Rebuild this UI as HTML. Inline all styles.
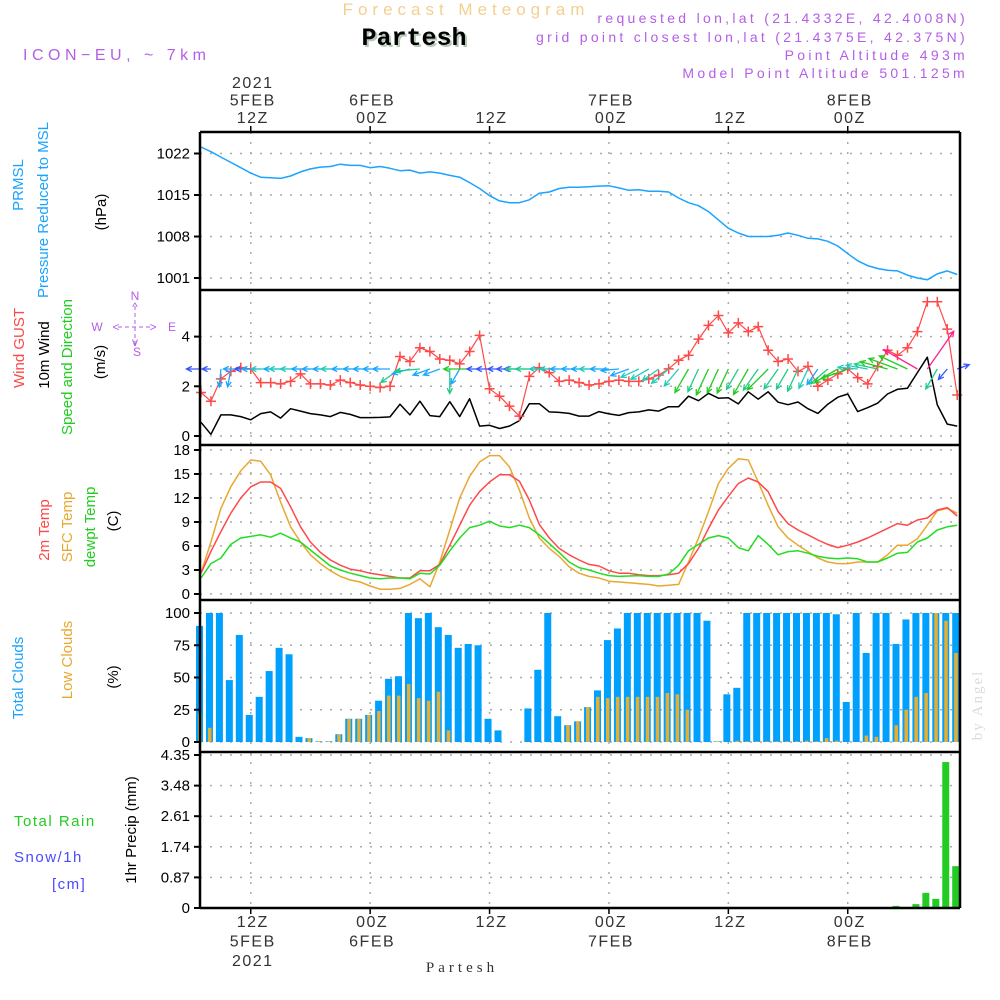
<!DOCTYPE html>
<html><head><meta charset="utf-8"><style>
html,body{margin:0;padding:0;background:#fff;}
svg{display:block;font-family:"Liberation Sans",sans-serif;}
</style></head><body>
<svg id="chart" width="1000" height="1000" viewBox="0 0 1000 1000">
<g id="grid"></g>
<g id="marks"></g>
<g id="frame"></g>
<g id="labels"></g>
<text x="466" y="15" text-anchor="middle" font-size="17" letter-spacing="5" fill="#f3cf90">Forecast Meteogram</text>
<text x="416" y="47" text-anchor="middle" font-size="25" font-weight="bold" font-family="Liberation Mono,monospace" fill="#b8c8b8">Partesh</text>
<text x="414" y="45" text-anchor="middle" font-size="25" font-weight="bold" font-family="Liberation Mono,monospace" fill="#000">Partesh</text>
<text x="23" y="60" font-size="16" letter-spacing="4.5" fill="#b45ee6">ICON−EU, ~ 7km</text>
<g fill="#b45ee6" font-size="14" letter-spacing="3.3" text-anchor="end">
<text x="968" y="23">requested lon,lat (21.4332E, 42.4008N)</text>
<text x="968" y="42">grid point closest lon,lat (21.4375E, 42.375N)</text>
<text x="968" y="60">Point Altitude 493m</text>
<text x="968" y="78">Model Point Altitude 501.125m</text>
</g>
<text x="462" y="972" text-anchor="middle" font-size="15" font-family="Liberation Serif,serif" letter-spacing="4" fill="#333">Partesh</text>
<text transform="translate(982,705) rotate(-90)" text-anchor="middle" font-size="15" font-family="Liberation Serif,serif" letter-spacing="2" fill="#d8ddd8">by Angel</text>
</svg>
<script>
const NS="http://www.w3.org/2000/svg";
const hours=[];for(let i=0;i<77;i++)hours.push(i);
const timeTickHours=[5,17,29,41,53,65];
const topTickLabels=[["2021","5FEB","12Z"],["6FEB","00Z"],["12Z"],["7FEB","00Z"],["12Z"],["8FEB","00Z"]];
const botTickLabels=[["12Z","5FEB","2021"],["00Z","6FEB"],["12Z"],["00Z","7FEB"],["12Z"],["00Z","8FEB"]];
const pressure=[1023.1,1022.3,1021.4,1020.5,1019.6,1018.7,1018,1017.9,1017.8,1018.2,1018.9,1019.4,1019.7,1019.8,1020.2,1020,1020,1019.6,1019.8,1019.5,1019.1,1019.2,1018.7,1018.9,1018.7,1018.3,1018,1017.1,1016.1,1014.9,1014,1013.7,1013.7,1014.2,1015.3,1015.5,1016.1,1016.3,1016.3,1016.4,1016.5,1016.55,1016.2,1015.8,1015.9,1015.65,1015.65,1015.5,1014.5,1013.7,1013.2,1012.2,1010.8,1009.4,1008.6,1008,1008,1008,1008.2,1008.6,1008.2,1007.7,1007.6,1007.2,1006.4,1005.1,1003.9,1003.1,1002.6,1002.3,1002.2,1001.5,1001,1000.7,1001.7,1002.2,1001.6];
const gust=[1.75,1.4,2.3,2.6,2.75,2.7,2.15,2.15,2.1,2.2,2.5,2.1,2.1,2.05,2.25,2.15,2.05,2.0,1.95,2.0,3.2,3.0,3.55,3.4,3.1,3.05,2.9,3.4,4.05,1.9,1.6,1.2,0.8,2.4,2.75,2.55,2.2,2.25,2.15,2.05,2.1,2.2,2.25,2.2,2.2,2.3,2.45,2.7,3.05,3.25,3.9,4.45,4.85,4.15,4.55,4.2,4.4,3.45,3.0,3.1,2.6,2.8,2.0,2.25,2.5,2.7,2.35,2.1,2.8,3.45,3.25,3.55,4.2,5.4,5.4,4.3,1.65];
const wind10=[0.55,0.07,0.85,0.85,0.78,0.65,0.9,0.97,0.72,1.1,1.0,0.9,0.85,0.78,0.95,0.87,0.74,0.74,0.75,0.77,1.28,0.85,1.4,0.82,0.78,1.38,0.78,1.5,0.4,0.43,0.3,0.4,0.62,1.3,1.3,0.97,0.95,0.91,0.8,0.8,0.98,0.89,0.83,0.94,0.97,1.05,1.0,1.18,1.18,1.6,1.42,1.72,1.52,1.54,1.29,1.78,1.48,1.78,1.36,1.26,1.37,1.1,0.91,1.28,1.56,1.69,0.98,1.14,1.32,1.69,1.88,1.92,2.55,3.17,1.25,0.48,0.4];
const windToDeg=[180,180,265,260,180,180,180,180,180,180,180,180,180,180,180,180,180,180,180,180,215,195,185,200,200,270,240,180,180,180,180,180,180,180,180,180,180,180,180,180,180,180,185,200,205,210,215,220,230,240,245,245,245,245,240,240,235,225,235,240,245,245,235,220,210,200,175,170,168,165,160,155,150,55,240,230,20];
const temp2m=[2.6,5.3,7.8,10.1,12,13.4,14,14,13.2,10.9,8.4,6.5,5.2,4.25,3.6,3.1,2.9,2.6,2.4,2.2,2,2,2.9,2.9,3.7,6.1,8.6,11.1,12.8,14,14.9,14.9,14.1,11.75,8.7,7,5.7,4.9,4.25,3.7,3.5,2.9,2.6,2.6,2.4,2.3,2.3,2.4,2.6,3.8,5.7,8.2,10.5,12.2,13.8,14.5,14,12.8,10.3,8.8,8,7.4,6.75,6.2,5.8,6.1,6.5,7,7.6,8.2,8.8,8.6,9.25,9.5,10.5,10.8,9.75];
const tempSfc=[2.6,6.5,10.7,13.4,15.4,16.75,16.6,14.9,11.5,8.4,6.5,4.9,3.8,2.9,2.2,1.75,1.5,1,0.6,0.6,0.7,1.2,1.9,0.9,4,8,12,14.7,16.5,17.3,17.3,15.9,13,9.5,7,5.7,4.7,3.4,2.6,2.2,2,1.6,1.5,1.4,1.3,1.2,1,1.1,1.2,4,7,10.3,13.8,15.7,16.9,16.75,14,11.1,8.4,7,6.1,5.3,4.5,4,3.8,3.8,4,4,4,4.9,6.1,6.1,6.9,8.6,10.4,10.7,10.1];
const dewpt=[2,3.8,4.5,6.2,7,7.2,7.4,7.1,7.6,7,6.5,5.5,4.5,3.5,3,2.6,2.3,2,1.9,2,2,1.9,2.6,2.5,3.6,5.4,7,8.3,8.6,9.1,8.5,8.3,8.6,8.3,7.4,6.3,5.2,4,3.3,3.0,2.6,2.3,2.2,2.25,2.3,2.2,2.2,2.5,3.6,5.4,6.2,7,7.3,7,5.8,5.4,7.3,6.2,4.9,5.3,5.4,5.1,4.7,4.5,4.4,4.5,4.4,4,4,4.5,5.1,5.2,6.5,7,8,8.4,8.6];
const totalClouds=[90,100,100,48,83,21,35,55,73,68,4,3,0.5,0.5,6,18,18,21,32,49,51,100,96,100,89,83,73,76,75,18,9,0,0,26,56,100,20,13,16,27,40,79,88,100,100,100,100,100,100,100,100,94,0.5,37,42,100,100,100,100,100,100,100,100,100,99,31,100,69,100,100,76,95,100,100,100,100,100];
const lowClouds=[22,11,0,0,0,0,0,0,0,0,0,3,0.5,0.5,6,18,18,21,24,36,36,45,34,32,39,9,0,0,0,0,0,0,0,0,0,0,0,13,16,27,35,34,35,35,35,35,35,38,37,25,0,0,0.5,0,1,0.5,0.5,0.5,0.5,0.5,0.5,1,0.5,3,1,0,0,5,4,0,13,25,35,38,100,94,69];
const precip=[0,0,0,0,0,0,0,0,0,0,0,0,0,0,0,0,0,0,0,0,0,0,0,0,0,0,0,0,0,0,0,0,0,0,0,0,0,0,0,0,0,0,0,0,0,0,0,0,0,0,0,0,0,0,0,0,0,0,0,0,0,0,0,0,0,0,0,0,0,0,0.06,0.03,0.11,0.43,0.26,4.15,1.19];
const pTicks=[1001,1008,1015,1022];
const wTicks=[0,2,4];
const tTicks=[0,3,6,9,12,15,18];
const cTicks=[0,25,50,75,100];
const rTicks=["0","0.87","1.74","2.61","3.48","4.35"];

const X0=200,X1=960;
const xS=h=>201+h*9.95;
const yP=v=>153.5+(1022-v)*5.93;
const yW=v=>436-v*24.85;
const yT=v=>594-v*8;
const yC=v=>742-v*1.29;
const yR=v=>908-v*35.17;
const panels=[[132,290],[290,445],[445,600],[600,752],[752,908]];

function el(tag,attrs,parent){const e=document.createElementNS(NS,tag);for(const k in attrs)e.setAttribute(k,attrs[k]);parent.appendChild(e);return e;}
const grid=document.getElementById('grid'),marks=document.getElementById('marks'),frame=document.getElementById('frame'),labels=document.getElementById('labels');

timeTickHours.forEach(h=>{
  const l=el('line',{x1:xS(h),x2:xS(h),y1:132,y2:908,stroke:'#aaa','stroke-width':1.5,'stroke-dasharray':'2 8'},grid);
  
  
});
function hgrid(ticks,fy,fmt,name){
  ticks.forEach(t=>{
    const v=typeof t==='string'?parseFloat(t):t;const y=fy(v);
    const g=el('line',{x1:X0,x2:X1,y1:y,y2:y,stroke:'#aaa','stroke-width':1.5,'stroke-dasharray':'2 8'},grid);
    
    
    el('line',{x1:X0-6,x2:X0,y1:y,y2:y,stroke:'#000','stroke-width':2},frame);
    const tx=el('text',{x:X0-10,y:y+5,'text-anchor':'end','font-size':15,fill:'#000'},labels);
    tx.textContent=fmt(t);
    
    
  });
}
hgrid(pTicks,yP,t=>t,'pressure');
hgrid(wTicks,yW,t=>t,'wind');
hgrid(tTicks,yT,t=>t,'temp');
hgrid(cTicks,yC,t=>t,'cloud');
hgrid(rTicks,yR,t=>t,'precip');

hours.forEach(i=>{
  const x=xS(i);
  const b=el('rect',{x:x-5,y:yC(totalClouds[i]),width:7,height:yC(0)-yC(totalClouds[i]),fill:'#00a0ff'},marks);
  
  
  const o=el('rect',{x:x-3,y:yC(lowClouds[i]),width:3.5,height:yC(0)-yC(lowClouds[i]),fill:'#e8ae30'},marks);
  
  
  if(precip[i]>0){
    const r=el('rect',{x:x-5,y:yR(precip[i]),width:7,height:yR(0)-yR(precip[i]),fill:'#22cc22'},marks);
    
    
  }
});
function line(arr,fy,color,name,w){
  const d=arr.map((v,i)=>(i?'L':'M')+xS(i).toFixed(1)+' '+fy(v).toFixed(1)).join(' ');
  const p=el('path',{d:d,fill:'none',stroke:color,'stroke-width':w||1.5,'stroke-linejoin':'round'},marks);
  
  
}
line(pressure,yP,'#1aa3ff','pressure-line');
line(wind10,yW,'#000','wind-10m-line');
line(gust,yW,'#ff4848','wind-gust-line',1.2);
gust.forEach((v,i)=>{
  const x=xS(i),y=yW(v);
  const m=el('path',{d:`M${x-5} ${y}H${x+5}M${x} ${y-5}V${y+5}`,stroke:'#ff4848','stroke-width':1.5},marks);
  
  
});
function wcol(s){return s<0.7?'#3355ff':s<0.95?'#1aa8ff':s<1.25?'#22ccbb':s<1.5?'#22cc88':s<2.2?'#22cc22':'#ff2090';}
windToDeg.forEach((deg,i)=>{
  const s=wind10[i],L=8+12*s,a=deg*Math.PI/180;
  const x0=xS(i),y0=369,x1=x0+L*Math.cos(a),y1=y0-L*Math.sin(a);
  const hl=6,a1=a+Math.PI-0.45,a2=a+Math.PI+0.45;
  const d=`M${x0} ${y0}L${x1} ${y1}M${x1+hl*Math.cos(a1)} ${y1-hl*Math.sin(a1)}L${x1} ${y1}L${x1+hl*Math.cos(a2)} ${y1-hl*Math.sin(a2)}`;
  const p=el('path',{d:d,fill:'none',stroke:wcol(s),'stroke-width':1.3},marks);
  
  
});
line(tempSfc,yT,'#e8a830','sfc-temp-line');
line(temp2m,yT,'#ff4848','temp-2m-line');
line(dewpt,yT,'#22dd22','dewpoint-line');

panels.forEach(p=>{
  el('line',{x1:X0,x2:X1,y1:p[0],y2:p[0],stroke:'#000','stroke-width':2.5},frame);
});
el('line',{x1:X0,x2:X1,y1:908,y2:908,stroke:'#000','stroke-width':2.5},frame);
el('line',{x1:X0,x2:X0,y1:132,y2:908,stroke:'#000','stroke-width':2.5},frame);
el('line',{x1:X1,x2:X1,y1:132,y2:908,stroke:'#000','stroke-width':2.5},frame);

timeTickHours.forEach((h,k)=>{
  const x=xS(h)+2;
  el('line',{x1:x-2,x2:x-2,y1:126,y2:132,stroke:'#000','stroke-width':1.5},frame);
  el('line',{x1:x-2,x2:x-2,y1:908,y2:914,stroke:'#000','stroke-width':1.5},frame);
  const top=topTickLabels[k];
  top.forEach((s,j)=>{
    const t=el('text',{x:x,y:126-(top.length-1-j)*17.5-3,'text-anchor':'middle','font-size':16,'letter-spacing':1.5,fill:'#333'},labels);
    t.textContent=s;
    
    
  });
  botTickLabels[k].forEach((s,j)=>{
    const t=el('text',{x:x,y:927+j*19.5,'text-anchor':'middle','font-size':16,'letter-spacing':1.5,fill:'#333'},labels);
    t.textContent=s;
    
    
  });
});

const vtitles=[
 ['PRMSL',18,185,'#1aa3ff','pressure-title'],['Pressure Reduced to MSL',43,210,'#1aa3ff','pressure-title-long'],['(hPa)',101,212,'#000','pressure-unit'],
 ['Wind GUST',19,348,'#ff4848','gust-title'],['10m Wind',44,355,'#000','wind10-title'],['Speed and Direction',67,367,'#22cc22','wind-dir-title'],['(m/s)',100,362,'#000','wind-unit'],
 ['2m Temp',44,530,'#ff4848','temp2m-title'],['SFC Temp',67,527,'#e8a830','sfc-temp-title'],['dewpt Temp',90,527,'#22cc22','dewpt-title'],['(C)',113,521,'#000','temp-unit'],
 ['Total Clouds',18,678,'#1aa3ff','total-cloud-title'],['Low Clouds',67,660,'#e8a830','low-cloud-title'],['(%)',113,677,'#000','cloud-unit'],
 ['1hr Precip (mm)',131,830,'#000','precip-title']];
vtitles.forEach(v=>{
  const t=el('text',{transform:`translate(${v[1]+5},${v[2]}) rotate(-90)`,'text-anchor':'middle','font-size':15,fill:v[3]},labels);
  t.textContent=v[0];
  
  
});
[['Total   Rain',14,826,'#22cc22','rain-legend'],['Snow/1h',14,862,'#4a4aff','snow-legend'],['[cm]',52,889,'#4a4aff','snow-unit']].forEach(v=>{
  const t=el('text',{x:v[1],y:v[2],'font-size':15,'letter-spacing':1.5,fill:v[3],'xml:space':'preserve'},labels);
  t.textContent=v[0];
  
  
});
const cg=el('g',{fill:'#b45ee6','font-size':12,'text-anchor':'middle'},labels);


[['N',135,300],['S',137,356],['W',97,331],['E',172,331],['<',116,331],['>',153,331],['^',135,311],['v',135,346]].forEach(c=>{const t=el('text',{x:c[1],y:c[2]},cg);t.textContent=c[0];});
el('line',{x1:135,x2:135,y1:306,y2:346,stroke:'#b45ee6','stroke-width':1,'stroke-dasharray':'4 3'},cg);
el('line',{x1:118,x2:152,y1:327,y2:327,stroke:'#b45ee6','stroke-width':1,'stroke-dasharray':'4 3'},cg);
</script>
</body></html>
